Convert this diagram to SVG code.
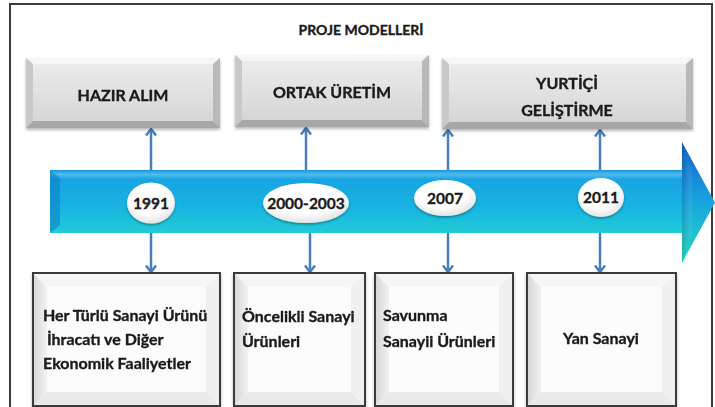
<svg xmlns="http://www.w3.org/2000/svg" width="715" height="407" viewBox="0 0 715 407">
  <defs>
    <style>
      .t { font-family: Lato, "Open Sans", "Liberation Sans", sans-serif; font-weight: bold; fill: #1a1a1a; stroke: #1a1a1a; stroke-width: 0.35; }
      .hdr { font-size: 16px; text-anchor: middle; }
      .body { font-size: 16px; }
      .yr { font-size: 15.5px; text-anchor: middle; }
      .conn { stroke: #4a7ebb; stroke-width: 2.5; fill: none; marker-end: url(#chev); }
      .face { fill: url(#greyFace); }
      .bt { fill: #f6f6f6; }
      .bl { fill: #c9c9c9; }
      .br { fill: #b9b9b9; }
      .bb { fill: #a7a7a7; }
      .wface { fill: #fcfcfc; }
      .wt { fill: #f6f6f6; }
      .wl { fill: url(#wLeft); }
      .wr { fill: #f0f0f0; }
      .wb { fill: #e9e9e9; }
      .edge { fill: none; stroke: #3a3a3a; stroke-width: 2; }
      .frame { fill: none; stroke: #3c3c3c; stroke-width: 2; }
      .oval { fill: url(#ovalFill); filter: url(#soft); }
    </style>
    <linearGradient id="greyFace" x1="0" y1="0" x2="0" y2="1">
      <stop offset="0" stop-color="#eeeeee"/>
      <stop offset="1" stop-color="#d3d3d3"/>
    </linearGradient>
    <linearGradient id="wLeft" x1="0" y1="0" x2="1" y2="0">
      <stop offset="0" stop-color="#d6d6d6"/>
      <stop offset="1" stop-color="#f2f2f2"/>
    </linearGradient>
    <linearGradient id="bodyFill" x1="0" y1="0" x2="0" y2="1">
      <stop offset="0" stop-color="#1597dc"/>
      <stop offset="0.07" stop-color="#4fbdee"/>
      <stop offset="0.15" stop-color="#18a3e2"/>
      <stop offset="0.6" stop-color="#17b4e2"/>
      <stop offset="1" stop-color="#22ccd6"/>
    </linearGradient>
    <linearGradient id="headFill" x1="0" y1="0" x2="0" y2="1">
      <stop offset="0" stop-color="#1360cc"/>
      <stop offset="0.45" stop-color="#179fe0"/>
      <stop offset="1" stop-color="#24dcc4"/>
    </linearGradient>
    <linearGradient id="headShade" x1="0" y1="0" x2="1" y2="0">
      <stop offset="0" stop-color="#000" stop-opacity="0.12"/>
      <stop offset="1" stop-color="#fff" stop-opacity="0.08"/>
    </linearGradient>
    <radialGradient id="ovalFill" cx="0.45" cy="0.35" r="0.75">
      <stop offset="0.55" stop-color="#ffffff"/>
      <stop offset="1" stop-color="#d9d9d9"/>
    </radialGradient>
    <filter id="shadow" x="-10%" y="-10%" width="120%" height="130%">
      <feDropShadow dx="0" dy="2" stdDeviation="1.5" flood-color="#000" flood-opacity="0.28"/>
    </filter>
    <filter id="soft" x="-20%" y="-20%" width="140%" height="150%">
      <feDropShadow dx="0" dy="1.5" stdDeviation="1.2" flood-color="#000" flood-opacity="0.35"/>
    </filter>
    <marker id="chev" viewBox="-8 -6 10 12" markerWidth="10" markerHeight="12" refX="0" refY="0" orient="auto" markerUnits="userSpaceOnUse">
      <path d="M-6.5,-5 L0,0 L-6.5,5" fill="none" stroke="#4a7ebb" stroke-width="2.5"/>
    </marker>
  </defs>

  <rect width="715" height="407" fill="#ffffff"/>
  <!-- outer frame -->
  <rect class="frame" x="10" y="4" width="702" height="420"/>

  <text class="t" x="361" y="35" font-size="14" text-anchor="middle">PROJE MODELLERİ</text>

  <!-- timeline arrow -->
  <g id="timeline">
    <rect x="50" y="170" width="633" height="63" fill="url(#bodyFill)"/>
    <polygon points="50,170 60,178 60,225 50,233" fill="#0f80c4" opacity="0.6"/>
    <polygon points="682,142 715,202.5 682,263" fill="url(#headFill)"/>
    <polygon points="682,142 692,172 692,233 682,263" fill="url(#headShade)"/>
  </g>

  <!-- connectors -->
  <g id="connectors">
    <line class="conn" x1="151" y1="170" x2="151" y2="129"/>
    <line class="conn" x1="151" y1="233" x2="151" y2="272"/>
    <line class="conn" x1="306" y1="170" x2="306" y2="128"/>
    <line class="conn" x1="310" y1="233" x2="310" y2="272"/>
    <line class="conn" x1="448" y1="170" x2="448" y2="130"/>
    <line class="conn" x1="448" y1="233" x2="448" y2="272"/>
    <line class="conn" x1="600" y1="170" x2="600" y2="130"/>
    <line class="conn" x1="600" y1="233" x2="600" y2="272"/>
  </g>

  <!-- year markers -->
  <g id="y1991">
    <ellipse class="oval" cx="151" cy="203" rx="24" ry="20.5"/>
    <text class="t yr" x="151" y="208.5">1991</text>
  </g>
  <g id="y2000">
    <ellipse class="oval" cx="306" cy="203" rx="43" ry="20"/>
    <text class="t yr" x="306" y="208.5">2000-2003</text>
  </g>
  <g id="y2007">
    <ellipse class="oval" cx="445" cy="198" rx="31" ry="18"/>
    <text class="t yr" x="445" y="203.5">2007</text>
  </g>
  <g id="y2011">
    <ellipse class="oval" cx="601" cy="197.5" rx="23" ry="19.5"/>
    <text class="t yr" x="601" y="203">2011</text>
  </g>

  <!-- project models -->
  <g id="hazirAlim" filter="url(#shadow)">
    <rect class="face" x="26" y="58" width="194" height="70"/>
    <polygon class="bt" points="26,58 220,58 213,64 33,64"/>
    <polygon class="bl" points="26,58 33,64 33,121 26,128"/>
    <polygon class="br" points="220,58 220,128 213,121 213,64"/>
    <polygon class="bb" points="26,128 33,121 213,121 220,128"/>
    <text class="t hdr" x="123" y="101">HAZIR ALIM</text>
  </g>
  <g id="ortakUretim" filter="url(#shadow)">
    <rect class="face" x="235" y="55" width="194" height="72"/>
    <polygon class="bt" points="235,55 429,55 422,61 242,61"/>
    <polygon class="bl" points="235,55 242,61 242,120 235,127"/>
    <polygon class="br" points="429,55 429,127 422,120 422,61"/>
    <polygon class="bb" points="235,127 242,120 422,120 429,127"/>
    <text class="t hdr" x="332" y="98">ORTAK ÜRETİM</text>
  </g>
  <g id="yurticiGelistirme" filter="url(#shadow)">
    <rect class="face" x="442" y="58" width="251" height="71"/>
    <polygon class="bt" points="442,58 693,58 686,64 449,64"/>
    <polygon class="bl" points="442,58 449,64 449,122 442,129"/>
    <polygon class="br" points="693,58 693,129 686,122 686,64"/>
    <polygon class="bb" points="442,129 449,122 686,122 693,129"/>
    <text class="t hdr" x="567" y="89">YURTİÇİ</text>
    <text class="t hdr" x="567" y="116">GELİŞTİRME</text>
  </g>

  <!-- sectors -->
  <g id="herTurlu" filter="url(#shadow)">
    <rect class="wface" x="33" y="273" width="187" height="133"/>
    <polygon class="wt" points="33,273 220,273 206,287 47,287"/>
    <polygon class="wl" points="33,273 47,287 47,392 33,406"/>
    <polygon class="wr" points="220,273 220,406 206,392 206,287"/>
    <polygon class="wb" points="33,406 47,392 206,392 220,406"/>
    <rect class="edge" x="33" y="273" width="187" height="133"/>
    <text class="t body" x="43" y="321">Her Türlü Sanayi Ürünü</text>
    <text class="t body" x="43" y="345" xml:space="preserve"> İhracatı ve Diğer</text>
    <text class="t body" x="43" y="369">Ekonomik Faaliyetler</text>
  </g>
  <g id="oncelikli" filter="url(#shadow)">
    <rect class="wface" x="234" y="273" width="131" height="133"/>
    <polygon class="wt" points="234,273 365,273 351,287 248,287"/>
    <polygon class="wl" points="234,273 248,287 248,392 234,406"/>
    <polygon class="wr" points="365,273 365,406 351,392 351,287"/>
    <polygon class="wb" points="234,406 248,392 351,392 365,406"/>
    <rect class="edge" x="234" y="273" width="131" height="133"/>
    <text class="t body" x="242" y="322">Öncelikli Sanayi</text>
    <text class="t body" x="242" y="347">Ürünleri</text>
  </g>
  <g id="savunma" filter="url(#shadow)">
    <rect class="wface" x="375" y="273" width="138" height="133"/>
    <polygon class="wt" points="375,273 513,273 499,287 389,287"/>
    <polygon class="wl" points="375,273 389,287 389,392 375,406"/>
    <polygon class="wr" points="513,273 513,406 499,392 499,287"/>
    <polygon class="wb" points="375,406 389,392 499,392 513,406"/>
    <rect class="edge" x="375" y="273" width="138" height="133"/>
    <text class="t body" x="383" y="321">Savunma</text>
    <text class="t body" x="383" y="347">Sanayii Ürünleri</text>
  </g>
  <g id="yanSanayi" filter="url(#shadow)">
    <rect class="wface" x="527" y="273" width="149" height="133"/>
    <polygon class="wt" points="527,273 676,273 662,287 541,287"/>
    <polygon class="wl" points="527,273 541,287 541,392 527,406"/>
    <polygon class="wr" points="676,273 676,406 662,392 662,287"/>
    <polygon class="wb" points="527,406 541,392 662,392 676,406"/>
    <rect class="edge" x="527" y="273" width="149" height="133"/>
    <text class="t body" x="601" y="344" text-anchor="middle">Yan Sanayi</text>
  </g>
</svg>
